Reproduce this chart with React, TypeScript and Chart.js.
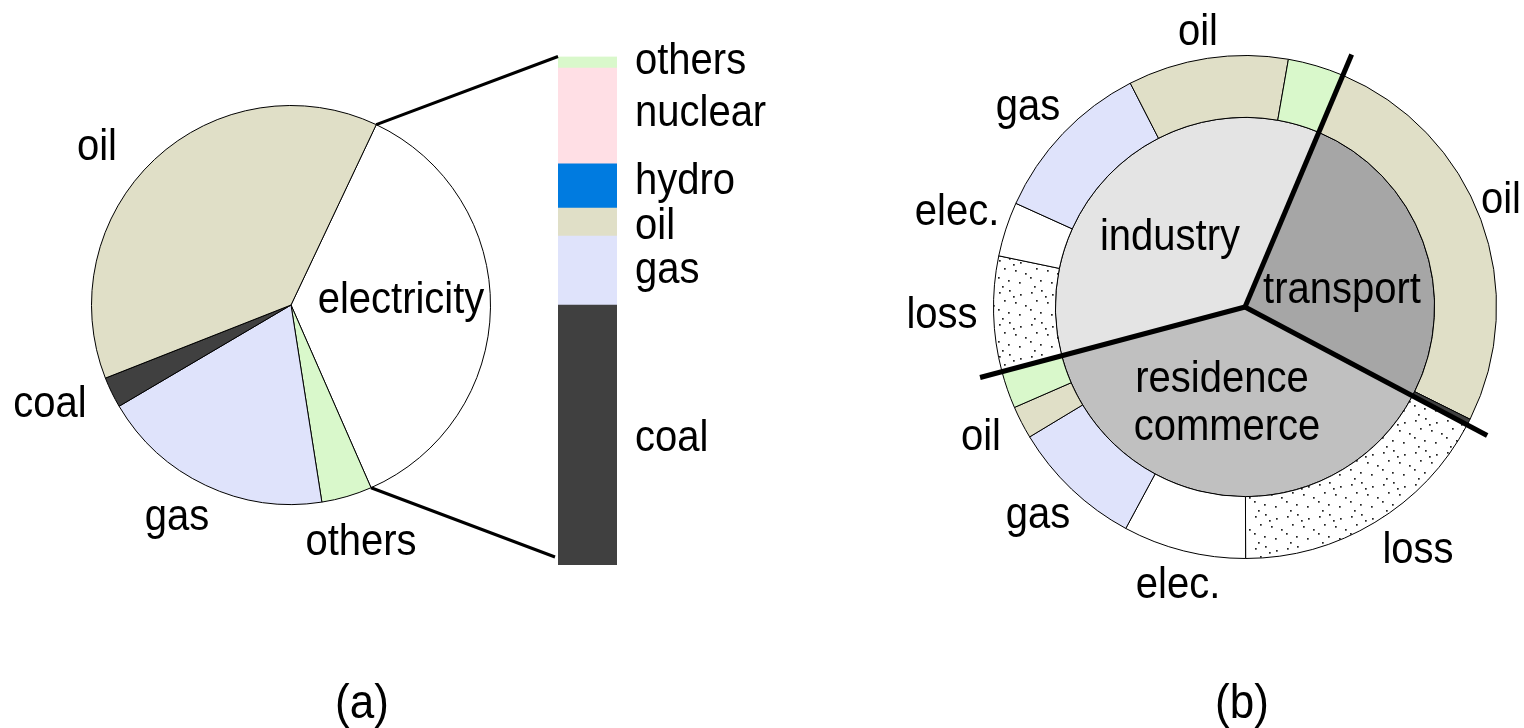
import React, { useEffect, useRef } from 'react';
import { Chart, registerables } from 'chart.js';

Chart.register(...registerables);

// ---------- Panel (a): final energy pie ----------
const pieLabels = ['electricity', 'others', 'gas', 'coal', 'oil'];
const pieValues = [36.4, 4.1, 19.0, 2.5, 38.0];
const pieColors = ['#ffffff', '#d9f8cb', '#dfe3fb', '#404040', '#e0dfc7'];

// ---------- Panel (a): electricity generation mix (bottom -> top) ----------
const mixLabels = ['coal', 'gas', 'oil', 'hydro', 'nuclear', 'others'];
const mixValues = [51.1, 13.6, 5.5, 8.7, 18.8, 2.3];
const mixColors = ['#404040', '#dfe3fb', '#e0dfc7', '#007be0', '#ffdfe5', '#d9f8cb'];

// ---------- Panel (b): sectors (inner) ----------
const sectorLabels = ['transport', 'residence commerce', 'industry'];
const sectorValues = [26.4, 38.1, 35.5];
const sectorColors = ['#a6a6a6', '#c0c0c0', '#e4e4e4'];

// ---------- Panel (b): sources per sector (outer ring) ----------
const sourceLabels = ['oil', 'elec.', 'loss', 'elec.', 'gas', 'oil', 'others', 'loss', 'elec.', 'gas', 'oil', 'others'];
const sourceValues = [26.0, 0.4, 17.2, 7.9, 8.5, 2.1, 2.4, 7.4, 3.5, 10.7, 10.3, 3.6];
const sourceKinds = ['oil', 'dark', 'loss', 'elec', 'gas', 'oil', 'others', 'loss', 'elec', 'gas', 'oil', 'others'];

// ---------- layout / style constants ----------
const FONT = '40px "Liberation Sans", Arial, Helvetica, sans-serif';
const FONT_CAP = '44px "Liberation Sans", Arial, Helvetica, sans-serif';
const TEXT_STRETCH_Y = 1.1;
const kindColor: Record<string, string> = {
  oil: '#e0dfc7', gas: '#dfe3fb', others: '#d9f8cb', elec: '#ffffff', dark: '#404040',
};

// canvas boxes in page coordinates
const PIE_BOX = { left: 0, top: 0, w: 560, h: 728 };
const BAR_BOX = { left: 360, top: 0, w: 440, h: 620 };
const RING_BOX = { left: 900, top: 0, w: 624, h: 728 };

// label placement (page coordinates: x, baseline y, align)
type Lbl = { t: string; x: number; y: number; a?: CanvasTextAlign; f?: string };
const pieTextPos: Lbl[] = [
  { t: 'oil', x: 97, y: 160 },
  { t: 'coal', x: 50, y: 417 },
  { t: 'gas', x: 177, y: 530 },
  { t: 'others', x: 361, y: 555 },
  { t: 'electricity', x: 401, y: 313 },
  { t: '(a)', x: 362, y: 718, f: FONT_CAP },
];
const mixTextY = [451, 283, 239, 194, 126, 74];
const MIX_TEXT_X = 635;
const ringTextPos: Lbl[] = [
  { t: 'oil', x: 1198, y: 45 },
  { t: 'gas', x: 1028, y: 120 },
  { t: 'elec.', x: 957, y: 225 },
  { t: 'loss', x: 942, y: 328 },
  { t: 'oil', x: 981, y: 450 },
  { t: 'gas', x: 1038, y: 528 },
  { t: 'elec.', x: 1178, y: 598 },
  { t: 'loss', x: 1418, y: 563 },
  { t: 'oil', x: 1501, y: 213 },
  { t: 'industry', x: 1170, y: 250 },
  { t: 'transport', x: 1342, y: 303 },
  { t: 'residence', x: 1222, y: 392 },
  { t: 'commerce', x: 1227, y: 440 },
  { t: '(b)', x: 1242, y: 718, f: FONT_CAP },
];

function makeDots(): CanvasPattern | string {
  const S = 32;
  const c = document.createElement('canvas');
  c.width = S;
  c.height = S;
  const g = c.getContext('2d');
  if (!g) return '#f4f4f4';
  g.fillStyle = '#ffffff';
  g.fillRect(0, 0, S, S);
  g.fillStyle = '#222222';
  const pts = [[3, 4], [13, 2], [24, 6], [8, 12], [19, 14], [29, 17], [2, 21], [12, 24], [23, 26], [6, 30], [17, 8]];
  pts.forEach(([x, y]) => g.fillRect(x, y, 1.7, 1.7));
  return g.createPattern(c, 'repeat') || '#f4f4f4';
}

function drawLabels(ctx: CanvasRenderingContext2D, labels: Lbl[], box: { left: number; top: number }) {
  ctx.save();
  ctx.fillStyle = '#000';
  ctx.textBaseline = 'alphabetic';
  labels.forEach((l) => {
    ctx.save();
    ctx.font = l.f || FONT;
    ctx.textAlign = l.a || 'center';
    ctx.translate(l.x - box.left, l.y - box.top);
    ctx.scale(1, TEXT_STRETCH_Y);
    ctx.fillText(l.t, 0, 0);
    ctx.restore();
  });
  ctx.restore();
}

export default function App() {
  const pieRef = useRef<HTMLCanvasElement>(null);
  const barRef = useRef<HTMLCanvasElement>(null);
  const ringRef = useRef<HTMLCanvasElement>(null);

  useEffect(() => {
    if (!pieRef.current || !barRef.current || !ringRef.current) return;
    const dots = makeDots();

    // ---- pie (a) ----
    const pie = new Chart(pieRef.current, {
      type: 'pie',
      data: {
        labels: pieLabels,
        datasets: [{ data: pieValues, backgroundColor: pieColors, borderColor: '#000', borderWidth: 1 }],
      },
      options: {
        animation: false,
        responsive: false,
        rotation: 25.3,
        layout: { padding: { left: 91, top: 105, right: PIE_BOX.w - 491, bottom: PIE_BOX.h - 505 } },
        plugins: { legend: { display: false }, tooltip: { enabled: false } },
      },
      plugins: [
        {
          id: 'pieText',
          afterDraw(chart: any) {
            drawLabels(chart.ctx, pieTextPos, PIE_BOX);
          },
        },
      ],
    } as any);

    // ---- stacked bar (a) ----
    const bar = new Chart(barRef.current, {
      type: 'bar',
      data: {
        labels: ['electricity'],
        datasets: mixLabels.map((l, i) => ({
          label: l,
          data: [mixValues[i]],
          backgroundColor: mixColors[i],
          borderWidth: 0,
          barPercentage: 1,
          categoryPercentage: 1,
        })),
      },
      options: {
        animation: false,
        responsive: false,
        layout: { padding: { left: 558 - BAR_BOX.left, right: BAR_BOX.left + BAR_BOX.w - 617, top: 56.5, bottom: BAR_BOX.h - 565 } },
        scales: {
          x: { stacked: true, display: false },
          y: { stacked: true, display: false, min: 0, max: 100 },
        },
        plugins: { legend: { display: false }, tooltip: { enabled: false } },
      },
      plugins: [
        {
          id: 'mixText',
          afterDraw(chart: any) {
            const ctx = chart.ctx as CanvasRenderingContext2D;
            drawLabels(
              ctx,
              mixLabels.map((t, i) => ({ t, x: MIX_TEXT_X, y: mixTextY[i], a: 'left' as CanvasTextAlign })),
              BAR_BOX
            );
            // connectors from the electricity slice to the bar
            const arc: any = pie.getDatasetMeta(0).data[0];
            const top: any = chart.getDatasetMeta(mixLabels.length - 1).data[0];
            const bottom: any = chart.getDatasetMeta(0).data[0];
            const left = top.x - top.width / 2;
            const dx = PIE_BOX.left - BAR_BOX.left;
            const dy = PIE_BOX.top - BAR_BOX.top;
            const r = arc.outerRadius;
            const p1 = [arc.x + Math.cos(arc.startAngle) * r + dx, arc.y + Math.sin(arc.startAngle) * r + dy];
            const p2 = [arc.x + Math.cos(arc.endAngle) * r + dx, arc.y + Math.sin(arc.endAngle) * r + dy];
            ctx.save();
            ctx.strokeStyle = '#000';
            ctx.lineWidth = 3;
            ctx.beginPath();
            ctx.moveTo(p1[0], p1[1]);
            ctx.lineTo(left, top.y);
            ctx.moveTo(p2[0], p2[1]);
            ctx.lineTo(left - 3, bottom.base - 8);
            ctx.stroke();
            ctx.restore();
          },
        },
      ],
    } as any);

    // ---- doughnut (b) ----
    const R = 252;
    const cx = 1245 - RING_BOX.left;
    const cy = 307 - RING_BOX.top;
    const ring = new Chart(ringRef.current, {
      type: 'doughnut',
      data: {
        labels: sourceLabels,
        datasets: [
          {
            data: sourceValues,
            backgroundColor: sourceKinds.map((k) => (k === 'loss' ? dots : kindColor[k])),
            borderColor: '#000',
            borderWidth: 1,
            weight: 62,
          },
          {
            data: sectorValues,
            backgroundColor: sectorColors,
            borderColor: '#000',
            borderWidth: 1,
            weight: 190,
          },
        ],
      },
      options: {
        animation: false,
        responsive: false,
        cutout: 0,
        rotation: 22.9,
        layout: { padding: { left: cx - R, top: cy - R, right: RING_BOX.w - cx - R, bottom: RING_BOX.h - cy - R } },
        plugins: { legend: { display: false }, tooltip: { enabled: false } },
      },
      plugins: [
        {
          id: 'separators',
          afterDatasetsDraw(chart: any) {
            const ctx = chart.ctx as CanvasRenderingContext2D;
            const outer: any = chart.getDatasetMeta(0).data[0];
            const L = outer.outerRadius * 1.09;
            ctx.save();
            ctx.strokeStyle = '#000';
            ctx.lineWidth = 5;
            chart.getDatasetMeta(1).data.forEach((a: any) => {
              ctx.beginPath();
              ctx.moveTo(a.x, a.y);
              ctx.lineTo(a.x + Math.cos(a.startAngle) * L, a.y + Math.sin(a.startAngle) * L);
              ctx.stroke();
            });
            ctx.restore();
          },
          afterDraw(chart: any) {
            drawLabels(chart.ctx, ringTextPos, RING_BOX);
          },
        },
      ],
    } as any);

    return () => {
      bar.destroy();
      pie.destroy();
      ring.destroy();
    };
  }, []);

  const boxStyle = (b: { left: number; top: number; w: number; h: number }, z: number): React.CSSProperties => ({
    position: 'absolute',
    left: b.left,
    top: b.top,
    width: b.w,
    height: b.h,
    zIndex: z,
  });

  return (
    <div style={{ position: 'fixed', left: 0, top: 0, width: 1524, height: 728, background: '#fff', overflow: 'hidden' }}>
      <canvas ref={pieRef} width={PIE_BOX.w} height={PIE_BOX.h} style={boxStyle(PIE_BOX, 1)} />
      <canvas ref={barRef} width={BAR_BOX.w} height={BAR_BOX.h} style={boxStyle(BAR_BOX, 2)} />
      <canvas ref={ringRef} width={RING_BOX.w} height={RING_BOX.h} style={boxStyle(RING_BOX, 1)} />
    </div>
  );
}
